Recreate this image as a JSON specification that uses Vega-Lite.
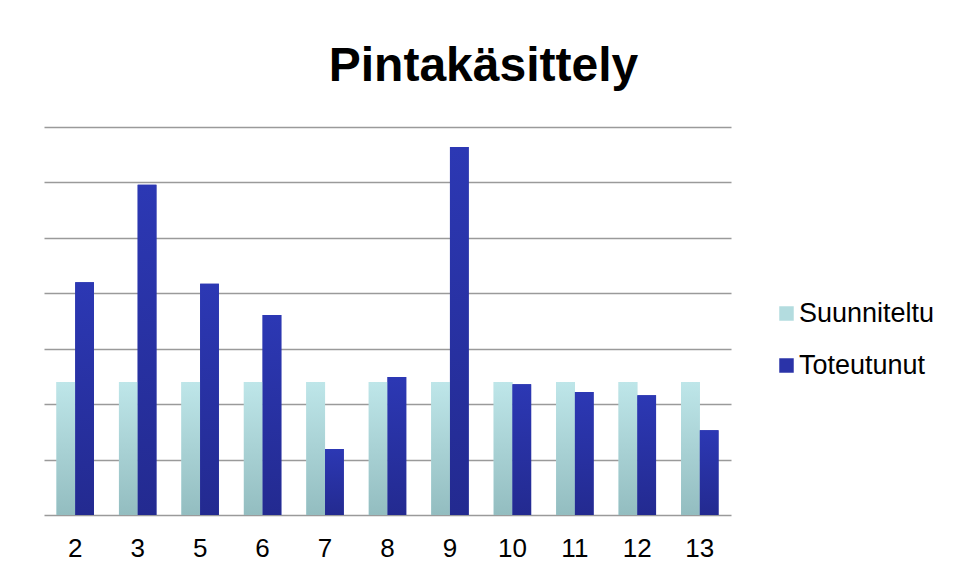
{
  "$schema": "https://vega.github.io/schema/vega-lite/v6.json",
  "width": 687,
  "height": 388,
  "autosize": "none",
  "padding": {"left": 44, "top": 127, "right": 227, "bottom": 64},
  "background": "white",
  "title": {
    "text": "Pintakäsittely",
    "font": "Liberation Sans",
    "fontSize": 48,
    "fontWeight": "bold",
    "color": "black",
    "anchor": "middle",
    "dx": 96,
    "offset": 36
  },
  "config": {"view": {"stroke": null}},
  "data": {
    "values": [
      {"category": "2", "series": "Suunniteltu", "value": 2.4},
      {"category": "2", "series": "Toteutunut", "value": 4.2},
      {"category": "3", "series": "Suunniteltu", "value": 2.4},
      {"category": "3", "series": "Toteutunut", "value": 5.96},
      {"category": "5", "series": "Suunniteltu", "value": 2.4},
      {"category": "5", "series": "Toteutunut", "value": 4.17},
      {"category": "6", "series": "Suunniteltu", "value": 2.4},
      {"category": "6", "series": "Toteutunut", "value": 3.61},
      {"category": "7", "series": "Suunniteltu", "value": 2.4},
      {"category": "7", "series": "Toteutunut", "value": 1.19},
      {"category": "8", "series": "Suunniteltu", "value": 2.4},
      {"category": "8", "series": "Toteutunut", "value": 2.49},
      {"category": "9", "series": "Suunniteltu", "value": 2.4},
      {"category": "9", "series": "Toteutunut", "value": 6.64},
      {"category": "10", "series": "Suunniteltu", "value": 2.4},
      {"category": "10", "series": "Toteutunut", "value": 2.36},
      {"category": "11", "series": "Suunniteltu", "value": 2.4},
      {"category": "11", "series": "Toteutunut", "value": 2.22},
      {"category": "12", "series": "Suunniteltu", "value": 2.4},
      {"category": "12", "series": "Toteutunut", "value": 2.16},
      {"category": "13", "series": "Suunniteltu", "value": 2.4},
      {"category": "13", "series": "Toteutunut", "value": 1.53}
    ]
  },
  "encoding": {
    "x": {
      "field": "category",
      "type": "ordinal",
      "sort": null,
      "scale": {"paddingInner": 0.4, "paddingOuter": 0.2},
      "axis": {
        "title": null,
        "labelAngle": 0,
        "ticks": false,
        "domain": false,
        "grid": false,
        "labelFont": "Liberation Sans",
        "labelFontSize": 26,
        "labelColor": "black",
        "labelPadding": 20
      }
    },
    "xOffset": {
      "field": "series",
      "type": "nominal",
      "sort": ["Suunniteltu", "Toteutunut"],
      "scale": {"paddingInner": 0, "paddingOuter": 0}
    },
    "y": {
      "field": "value",
      "type": "quantitative",
      "stack": null,
      "scale": {"domain": [0, 7], "nice": false},
      "axis": {
        "title": null,
        "labels": false,
        "ticks": false,
        "domain": false,
        "grid": true,
        "values": [0, 1, 2, 3, 4, 5, 6, 7],
        "gridColor": "#9a9a9a",
        "gridWidth": 1.6
      }
    }
  },
  "layer": [
    {
      "mark": {"type": "bar"},
      "encoding": {
        "color": {
          "field": "series",
          "type": "nominal",
          "scale": {"domain": ["Suunniteltu", "Toteutunut"], "range": ["#b3dcdf", "#2a33a8"]},
          "legend": {
            "title": null,
            "orient": "none",
            "legendX": 729,
            "legendY": 173,
            "symbolType": "square",
            "symbolSize": 210,
            "symbolStrokeWidth": 0,
            "labelFont": "Liberation Sans",
            "labelFontSize": 27,
            "labelColor": "black",
            "labelOffset": -1,
            "rowPadding": 24
          }
        }
      }
    },
    {
      "mark": {"type": "bar"},
      "encoding": {
        "fill": {
          "condition": {
            "test": "datum.series === 'Suunniteltu'",
            "value": {
              "gradient": "linear", "x1": 0, "y1": 0, "x2": 0, "y2": 1,
              "stops": [{"offset": 0, "color": "#bee6e9"}, {"offset": 1, "color": "#93bdc0"}]
            }
          },
          "value": {
            "gradient": "linear", "x1": 0, "y1": 0, "x2": 0, "y2": 1,
            "stops": [{"offset": 0, "color": "#2c38b4"}, {"offset": 1, "color": "#232a90"}]
          }
        }
      }
    }
  ]
}
